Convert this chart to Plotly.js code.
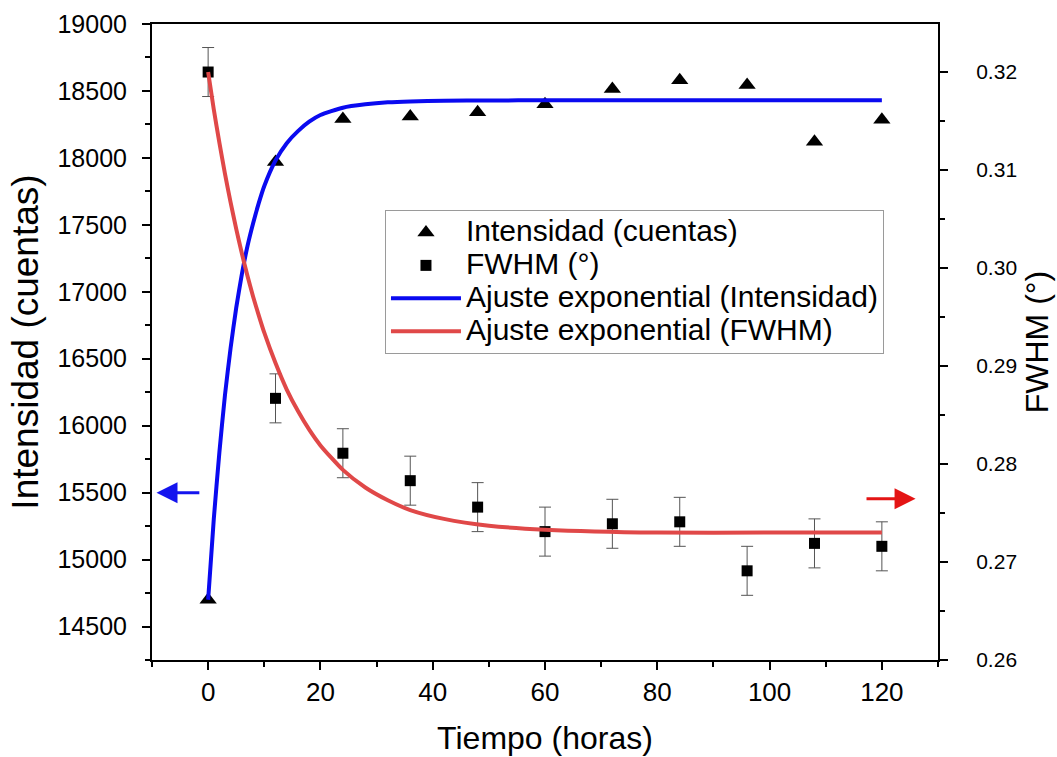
<!DOCTYPE html>
<html>
<head>
<meta charset="utf-8">
<script src="https://cdn.plot.ly/plotly-3.0.1.min.js"></script>
<style>
  html, body { margin: 0; padding: 0; background: #fff; }
  #chart { width: 1057px; height: 757px; }
</style>
</head>
<body>
<div id="chart"></div>
<script>
// Sampling times (hours)
const tiempo = [0, 12, 24, 36, 48, 60, 72, 84, 96, 108, 120];

// Peak intensity (counts), left axis
const intensidad = [14700, 17970, 18290, 18310, 18340, 18400, 18515, 18580, 18545, 18120, 18285];

// Peak FWHM (degrees), right axis, with its uncertainty
const fwhm = [0.3200, 0.2867, 0.2811, 0.2783, 0.2756, 0.2731, 0.2739, 0.2741, 0.2691, 0.2719, 0.2716];
const fwhmErr = [0.0025, 0.0025, 0.0025, 0.0025, 0.0025, 0.0025, 0.0025, 0.0025, 0.0025, 0.0025, 0.0025];

// Exponential fit curves, sampled along time
const ajusteTiempo = [0, 1, 2, 3, 4, 5, 6, 7, 8, 9, 10, 12, 14, 16, 18, 20, 24, 28, 32, 36, 42, 50, 60, 80, 100, 120];
const ajusteIntensidad = [14700, 15300, 15800, 16230, 16580, 16880, 17130, 17340, 17510, 17660, 17790, 17980, 18110, 18200,
  18270, 18320, 18375, 18400, 18415, 18422, 18427, 18429, 18430, 18430, 18430, 18430];
const ajusteFwhm = [0.3200, 0.3162, 0.3128, 0.3096, 0.3067, 0.3040, 0.3015, 0.2992, 0.2971, 0.2952, 0.2934, 0.2903, 0.2876,
  0.2854, 0.2835, 0.2819, 0.2794, 0.2776, 0.2763, 0.2753, 0.2744, 0.2737, 0.2733, 0.2730, 0.2730, 0.2730];

// Legend labels
const nombres = ['Intensidad (cuentas)', 'FWHM (°)', 'Ajuste exponential (Intensidad)', 'Ajuste exponential (FWHM)'];

const FONT = 'Liberation Sans, Arial, Helvetica, sans-serif';
// legend entries are drawn a bit larger than the row pitch implies
const etiqueta = s => '<span style="font-size:30px">' + s + '</span>';

const traces = [
  {
    x: tiempo, y: intensidad, name: etiqueta(nombres[0]),
    type: 'scatter', mode: 'markers', yaxis: 'y',
    marker: { symbol: 'triangle-up', size: 15, color: '#000' }
  },
  {
    x: tiempo, y: fwhm, name: etiqueta(nombres[1]),
    type: 'scatter', mode: 'markers', yaxis: 'y2',
    marker: { symbol: 'square', size: 11, color: '#000' },
    error_y: { type: 'data', array: fwhmErr, visible: true, color: '#555', thickness: 1, width: 6 }
  },
  {
    x: ajusteTiempo, y: ajusteIntensidad, name: etiqueta(nombres[2]),
    type: 'scatter', mode: 'lines', yaxis: 'y',
    line: { color: '#0a0af0', width: 4, shape: 'spline', smoothing: 0.6 }
  },
  {
    x: ajusteTiempo, y: ajusteFwhm, name: etiqueta(nombres[3]),
    type: 'scatter', mode: 'lines', yaxis: 'y2',
    line: { color: '#e04848', width: 4, shape: 'spline', smoothing: 0.6 }
  }
];

const axisCommon = {
  showline: true, linecolor: '#000', linewidth: 2,
  ticks: 'outside', ticklen: 8, tickwidth: 2, tickcolor: '#000',
  showgrid: false, zeroline: false,
  tickfont: { family: FONT, size: 25, color: '#000' }
};

const layout = {
  width: 1057, height: 757,
  margin: { l: 152, r: 119, t: 24, b: 97 },
  paper_bgcolor: '#fff', plot_bgcolor: '#fff',
  font: { family: FONT, color: '#000' },
  showlegend: true,
  legend: {
    x: 0.2964, y: 0.7075, xanchor: 'left', yanchor: 'top',
    bgcolor: '#fff', bordercolor: '#9a9a9a', borderwidth: 1,
    font: { family: FONT, size: 23, color: '#000' },
    itemwidth: 70, tracegroupgap: 0
  },
  xaxis: Object.assign({}, axisCommon, {
    range: [-10, 130], tick0: 0, dtick: 20, mirror: true,
    tickfont: { family: FONT, size: 26, color: '#000' },
    minor: { dtick: 10, ticks: 'outside', ticklen: 5, tickwidth: 2, tickcolor: '#000', showgrid: false },
    title: { text: 'Tiempo (horas)', font: { family: FONT, size: 32, color: '#000' }, standoff: 20 }
  }),
  yaxis: Object.assign({}, axisCommon, {
    range: [14250, 19000], tick0: 14500, dtick: 500, tickformat: 'd', ticklabelstandoff: 10,
    minor: { dtick: 250, ticks: 'outside', ticklen: 5, tickwidth: 2, tickcolor: '#000', showgrid: false },
    title: { text: 'Intensidad (cuentas)', font: { family: FONT, size: 37, color: '#000' }, standoff: 8 }
  }),
  yaxis2: Object.assign({}, axisCommon, {
    overlaying: 'y', side: 'right',
    range: [0.26, 0.3249], tick0: 0.26, dtick: 0.01, tickformat: '.2f', ticklabelstandoff: 24,
    tickfont: { family: FONT, size: 21, color: '#000' },
    minor: { dtick: 0.005, ticks: 'outside', ticklen: 5, tickwidth: 2, tickcolor: '#000', showgrid: false },
    title: { text: 'FWHM (°)', font: { family: FONT, size: 32, color: '#000' }, standoff: 10 }
  }),
  annotations: [
    // arrow pointing to the intensity axis
    {
      xref: 'x', yref: 'y', axref: 'x', ayref: 'y',
      x: -9.2, y: 15500, ax: -1.3, ay: 15500,
      text: '', showarrow: true, arrowhead: 2, arrowsize: 1.4, arrowwidth: 3,
      arrowcolor: '#1414ee', standoff: 0, startstandoff: 0
    },
    // arrow pointing to the FWHM axis
    {
      xref: 'x', yref: 'y2', axref: 'x', ayref: 'y2',
      x: 126.0, y: 0.27645, ax: 117.0, ay: 0.27645,
      text: '', showarrow: true, arrowhead: 2, arrowsize: 1.4, arrowwidth: 3,
      arrowcolor: '#e41414', standoff: 0, startstandoff: 0
    }
  ]
};

Plotly.newPlot('chart', traces, layout, { displayModeBar: false, staticPlot: true });
</script>
</body>
</html>
